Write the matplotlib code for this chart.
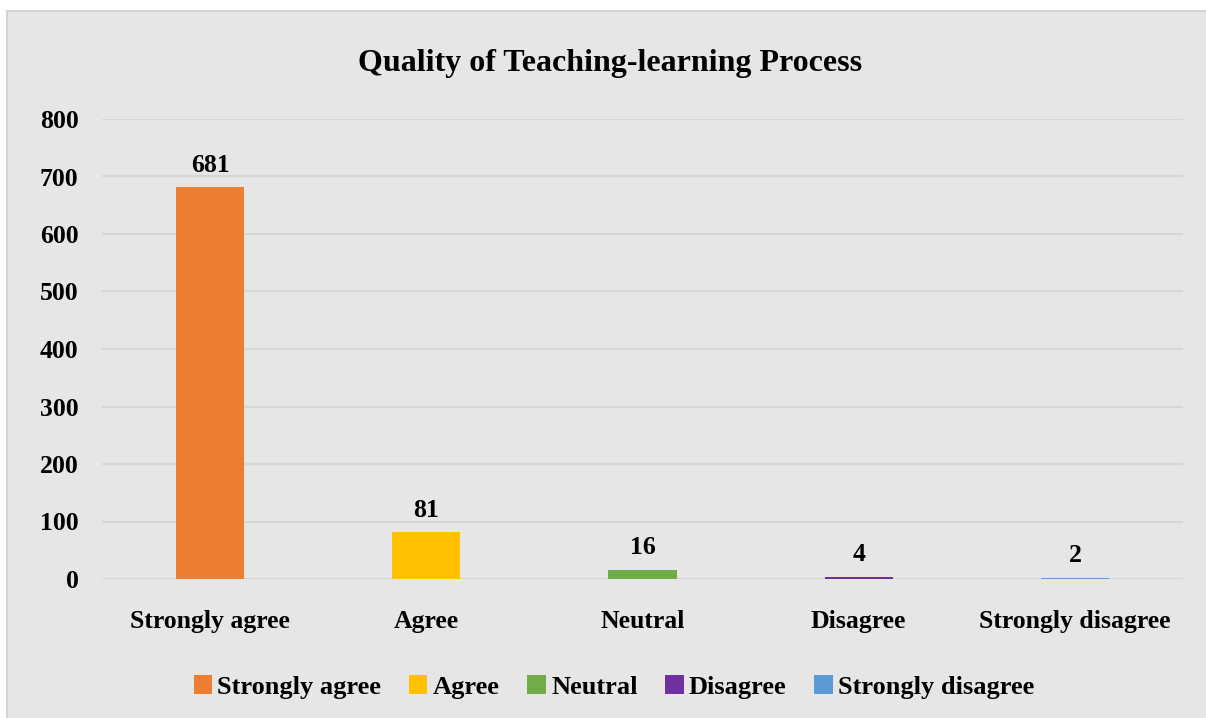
import matplotlib.pyplot as plt
from matplotlib.patches import Rectangle, Patch

# data
categories = ["Strongly agree", "Agree", "Neutral", "Disagree", "Strongly disagree"]
counts = [681, 81, 16, 4, 2]
colors = ["#ED7D31", "#FFC000", "#70AD47", "#7030A0", "#5B9BD5"]
yticks = [0, 100, 200, 300, 400, 500, 600, 700, 800]

plt.rcParams["font.family"] = ["Liberation Serif", "DejaVu Serif"]
plt.rcParams["font.weight"] = "bold"

W, H = 1206, 718
fig = plt.figure(figsize=(W / 100, H / 100), dpi=100, facecolor="white")

# grey chart area with a light border
bg = Rectangle((7 / W, -0.01), 1.01 - 7 / W, 1.01 - 11 / H, transform=fig.transFigure,
               facecolor="#e7e6e6", edgecolor="#d4d4d4", linewidth=1.5, zorder=-5)
fig.patches.append(bg)

ax = fig.add_axes([102 / W, 1 - 579 / H, (1183 - 102) / W, (579 - 119) / H])
ax.set_facecolor("none")

x = range(len(categories))
bars = ax.bar(x, counts, width=0.315, color=colors, zorder=3)

for b, v in zip(bars, counts):
    ax.text(b.get_x() + b.get_width() / 2, v + 18, str(v), ha="center", va="bottom",
            fontsize=18.5, fontweight="bold")

ax.set_xlim(-0.5, len(categories) - 0.5)
ax.set_ylim(0, 800)
ax.set_yticks(yticks)
ax.set_yticklabels([str(t) for t in yticks], fontsize=18.5, fontweight="bold")
ax.set_xticks(list(x))
ax.set_xticklabels(categories, fontsize=18.5, fontweight="bold")
ax.tick_params(axis="both", length=0)
ax.tick_params(axis="y", pad=17)
ax.tick_params(axis="x", pad=22)
ax.grid(axis="y", color="#d6d6d6", linewidth=1.5, zorder=0)
for s in ax.spines.values():
    s.set_visible(False)

fig.text(610 / W, 1 - 63 / H, "Quality of Teaching-learning Process", ha="center", va="center",
         fontsize=23, fontweight="bold")

handles = [Patch(facecolor=c, label=l) for c, l in zip(colors, categories)]
fig.legend(handles=handles, loc="center", bbox_to_anchor=(614 / W, 1 - 687 / H), ncol=5,
           frameon=False, handlelength=0.7, handleheight=0.7,
           handletextpad=0.2, columnspacing=1.05, prop={"weight": "bold", "size": 19})

fig.savefig("out.png", dpi=100, facecolor=fig.get_facecolor())
